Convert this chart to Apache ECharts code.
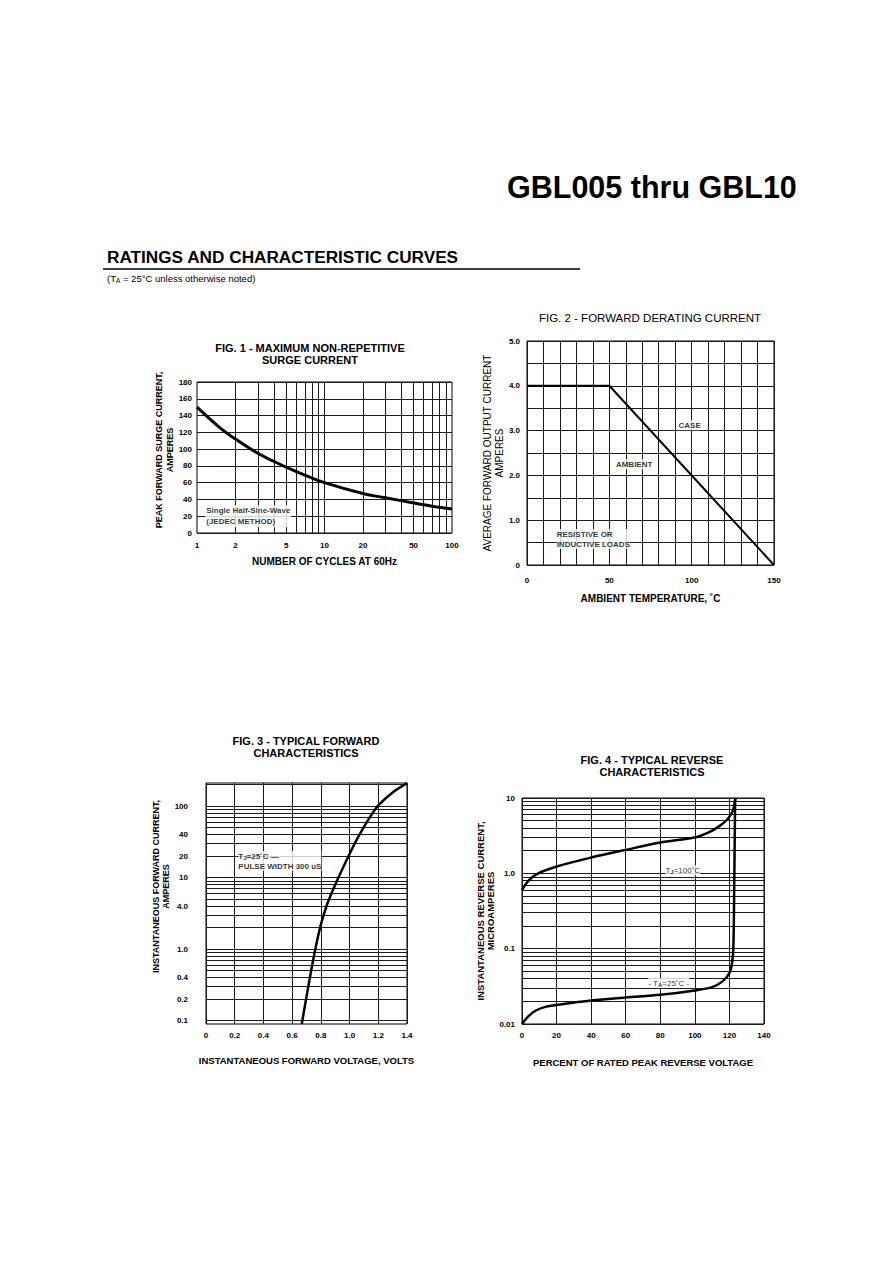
<!DOCTYPE html>
<html><head><meta charset="utf-8">
<script src="https://cdn.jsdelivr.net/npm/echarts@6/dist/echarts.min.js"></script>
<style>html,body{margin:0;padding:0;background:#fff}#c{width:892px;height:1263px}</style>
</head><body><div id="c"></div>
<script>
// ---------- FIG. 1 : surge current vs cycles ----------
const fig1Cycles = [1, 1.5, 2, 3, 4, 5, 7, 10, 20, 30, 50, 70, 100];
const fig1Surge  = [150, 126, 112, 95, 85.5, 78.5, 69, 60, 47, 42, 35.8, 32, 28.5];
const fig1XTicks = [1, 2, 5, 10, 20, 50, 100];
const fig1XGrid  = [2, 3, 4, 5, 6, 7, 8, 9, 10, 20, 30, 40, 50, 60, 70, 80, 90];
// ---------- FIG. 2 : derating ----------
const fig2Temp    = [0, 50, 150];
const fig2Current = [4.0, 4.0, 0];
// ---------- FIG. 3 : forward characteristics ----------
const fig3Volts = [0.667, 0.70, 0.74, 0.77, 0.80, 0.83, 0.86, 0.90, 0.95, 1.0, 1.05, 1.1, 1.15, 1.2, 1.3, 1.4];
const fig3Amps  = [0.09, 0.216, 0.605, 1.21, 2.2, 3.52, 5.15, 7.94, 13.2, 21.4, 33.9, 51.3, 74, 102, 155, 209];
const fig3YTicks  = [0.1, 0.2, 0.4, 1, 4, 10, 20, 40, 100];
const fig3YLabels = ['0.1', '0.2', '0.4', '1.0', '4.0', '10', '20', '40', '100'];
const fig3YGrid = [0.1,0.2,0.3,0.4,0.5,0.6,0.7,0.8,0.9,1,2,3,4,5,6,7,8,9,10,20,30,40,50,60,70,80,90,100,200];
// ---------- FIG. 4 : reverse characteristics ----------
const fig4Pct100 = [0, 3.5, 8.3, 20, 40, 60, 80, 100, 108, 114, 119, 122, 123.5];
const fig4Cur100 = [0.6, 0.79, 0.97, 1.23, 1.62, 2.05, 2.57, 2.99, 3.49, 4.2, 5.26, 6.8, 10];
const fig4Pct25  = [0, 3.5, 8, 14, 20, 40, 60, 80, 100, 110, 116, 120, 121.5, 122.3, 122.8, 123.3];
const fig4Cur25  = [0.01, 0.0125, 0.0151, 0.017, 0.0179, 0.0205, 0.0225, 0.0244, 0.0279, 0.0309, 0.0368, 0.0475, 0.0646, 0.108, 0.756, 10];
const fig4YTicks  = [0.01, 0.1, 1, 10];
const fig4YLabels = ['0.01', '0.1', '1.0', '10'];
const fig4YGrid = [0.01,0.02,0.03,0.04,0.05,0.06,0.07,0.08,0.09,0.1,0.2,0.3,0.4,0.5,0.6,0.7,0.8,0.9,1,2,3,4,5,6,7,8,9,10];

const FONT = '"Liberation Sans", Arial, sans-serif';
const INK = '#000';
const GRIDC = '#1c1c1c';
const zip = (a, b) => a.map((v, i) => [v, b[i]]);

function gridLines(key, values) {
  return { silent: true, symbol: ['none', 'none'], z: 1, animation: false,
    label: { show: false }, emphasis: { disabled: true },
    lineStyle: { color: GRIDC, width: 1, type: 'solid' },
    data: values.map(v => ({ [key]: v })) };
}
const tickLab = (extra) => Object.assign({ color: INK, fontSize: 8, fontWeight: 'bold', fontFamily: FONT }, extra || {});
const nameStyle = (extra) => Object.assign({ color: INK, fontSize: 9, fontWeight: 'bold', fontFamily: FONT }, extra || {});
const split = { show: true, lineStyle: { color: GRIDC, width: 1 } };
const noSplit = { show: false };
const gridBox = { show: true, borderColor: '#000', borderWidth: 1, backgroundColor: 'transparent' };
const sub = { s: { fontSize: 6, fontWeight: 'bold', fontFamily: FONT, padding: [4, 0, 0, 0] } };
function note(xi, yi, pt, text, extra) {
  return { type: 'scatter', xAxisIndex: xi, yAxisIndex: yi, symbolSize: 0, silent: true, z: 4,
    data: [pt],
    label: Object.assign({ show: true, position: [0, 0], align: 'left', verticalAlign: 'middle',
      formatter: text, color: INK, fontSize: 8, fontWeight: 'bold', fontFamily: FONT,
      backgroundColor: '#fff', lineHeight: 10, rich: sub }, extra || {}) };
}

const chart = echarts.init(document.getElementById('c'), null, { renderer: 'svg', width: 892, height: 1263 });

const option = {
  animation: false,
  backgroundColor: '#fff',
  textStyle: { fontFamily: FONT },
  graphic: [
    { type: 'text', x: 507, y: 187, style: { text: 'GBL005 thru GBL10', font: 'bold 30.5px ' + FONT, fill: INK, align: 'left', verticalAlign: 'middle', textAlign: 'left', textVerticalAlign: 'middle' } },
    { type: 'text', x: 107, y: 257, style: { text: 'RATINGS AND CHARACTERISTIC CURVES', font: 'bold 17.2px ' + FONT, fill: INK, align: 'left', verticalAlign: 'middle', textAlign: 'left', textVerticalAlign: 'middle' } },
    { type: 'line', shape: { x1: 103, y1: 269, x2: 580, y2: 269 }, style: { stroke: INK, lineWidth: 1.5 } },
    { type: 'text', x: 107, y: 278, style: { text: '(T{s|A} = 25°C unless otherwise noted)', font: '9.5px ' + FONT, fill: INK, align: 'left', verticalAlign: 'middle', textAlign: 'left', textVerticalAlign: 'middle', rich: { s: { fontSize: 6.5, padding: [4, 0, 0, 0] } } } },
    // figure titles
    { type: 'text', x: 310, y: 348, style: { text: 'FIG. 1 - MAXIMUM NON-REPETITIVE', font: 'bold 11px ' + FONT, fill: INK, align: 'center', verticalAlign: 'middle', textAlign: 'center', textVerticalAlign: 'middle' } },
    { type: 'text', x: 310, y: 360, style: { text: 'SURGE CURRENT', font: 'bold 11px ' + FONT, fill: INK, align: 'center', verticalAlign: 'middle', textAlign: 'center', textVerticalAlign: 'middle' } },
    { type: 'text', x: 650, y: 318, style: { text: 'FIG. 2 - FORWARD DERATING CURRENT', font: '11.5px ' + FONT, fill: INK, align: 'center', verticalAlign: 'middle', textAlign: 'center', textVerticalAlign: 'middle' } },
    { type: 'text', x: 306, y: 741, style: { text: 'FIG. 3 - TYPICAL FORWARD', font: 'bold 11px ' + FONT, fill: INK, align: 'center', verticalAlign: 'middle', textAlign: 'center', textVerticalAlign: 'middle' } },
    { type: 'text', x: 306, y: 753, style: { text: 'CHARACTERISTICS', font: 'bold 11px ' + FONT, fill: INK, align: 'center', verticalAlign: 'middle', textAlign: 'center', textVerticalAlign: 'middle' } },
    { type: 'text', x: 652, y: 760, style: { text: 'FIG. 4 - TYPICAL REVERSE', font: 'bold 11px ' + FONT, fill: INK, align: 'center', verticalAlign: 'middle', textAlign: 'center', textVerticalAlign: 'middle' } },
    { type: 'text', x: 652, y: 772, style: { text: 'CHARACTERISTICS', font: 'bold 11px ' + FONT, fill: INK, align: 'center', verticalAlign: 'middle', textAlign: 'center', textVerticalAlign: 'middle' } }
  ],
  grid: [
    Object.assign({ left: 197, top: 382, width: 255, height: 151 }, gridBox),
    Object.assign({ left: 527, top: 341, width: 247, height: 224 }, gridBox),
    Object.assign({ left: 206, top: 783, width: 201, height: 241 }, gridBox),
    Object.assign({ left: 522, top: 798, width: 242, height: 226 }, gridBox)
  ],
  xAxis: [
    { gridIndex: 0, type: 'log', logBase: 10, min: 1, max: 100,
      axisLine: { show: false }, axisTick: { show: false }, splitLine: noSplit,
      axisLabel: Object.assign(tickLab({ margin: 8 }), { customValues: fig1XTicks, formatter: v => String(Math.round(v)) }),
      name: 'NUMBER OF CYCLES AT 60Hz', nameLocation: 'middle', nameGap: 23, nameTextStyle: nameStyle({ fontSize: 10 }) },
    { gridIndex: 1, type: 'value', min: 0, max: 150, interval: 10,
      axisLine: { show: false }, axisTick: { show: false }, splitLine: split,
      axisLabel: tickLab({ margin: 11, formatter: v => (v % 50 === 0 ? String(v) : '') }),
      name: 'AMBIENT TEMPERATURE, ˚C', nameLocation: 'middle', nameGap: 28, nameTextStyle: nameStyle({ fontSize: 10 }) },
    { gridIndex: 2, type: 'value', min: 0, max: 1.4, interval: 0.2,
      axisLine: { show: false }, axisTick: { show: false }, splitLine: split,
      axisLabel: tickLab({ margin: 7, formatter: v => (v === 0 ? '0' : v.toFixed(1)) }),
      name: 'INSTANTANEOUS FORWARD VOLTAGE, VOLTS', nameLocation: 'middle', nameGap: 31, nameTextStyle: nameStyle({ fontSize: 9.5 }) },
    { gridIndex: 3, type: 'value', min: 0, max: 140, interval: 20,
      axisLine: { show: false }, axisTick: { show: false }, splitLine: split,
      axisLabel: tickLab({ margin: 7 }),
      name: 'PERCENT OF RATED PEAK REVERSE VOLTAGE', nameLocation: 'middle', nameGap: 33, nameTextStyle: nameStyle({ fontSize: 9.5 }) }
  ],
  yAxis: [
    { gridIndex: 0, type: 'value', min: 0, max: 180, interval: 20,
      axisLine: { show: false }, axisTick: { show: false }, splitLine: split,
      axisLabel: tickLab({ margin: 5 }),
      name: 'PEAK FORWARD SURGE CURRENT,\nAMPERES', nameLocation: 'middle', nameGap: 22,
      nameTextStyle: nameStyle({ lineHeight: 10.5, padding: [0, 0, 0, 15] }) },
    { gridIndex: 1, type: 'value', min: 0, max: 5, interval: 0.5,
      axisLine: { show: false }, axisTick: { show: false }, splitLine: split,
      axisLabel: tickLab({ margin: 7, formatter: v => (Math.abs(v - Math.round(v)) < 1e-9 ? (v === 0 ? '0' : v.toFixed(1)) : '') }),
      name: 'AVERAGE FORWARD OUTPUT CURRENT\nAMPERES', nameLocation: 'middle', nameGap: 22,
      nameTextStyle: nameStyle({ fontSize: 10, fontWeight: 'normal', lineHeight: 11.5 }) },
    { gridIndex: 2, type: 'log', logBase: 10, min: 0.09, max: 210,
      axisLine: { show: false }, axisTick: { show: false }, splitLine: noSplit,
      axisLabel: Object.assign(tickLab({ margin: 18 }), { customValues: fig3YTicks,
        formatter: v => { const i = fig3YTicks.findIndex(t => Math.abs(t - v) / t < 1e-6); return i >= 0 ? fig3YLabels[i] : ''; } }),
      name: 'INSTANTANEOUS FORWARD CURRENT,\nAMPERES', nameLocation: 'middle', nameGap: 27,
      nameTextStyle: nameStyle({ lineHeight: 10, padding: [0, 0, 0, 34] }) },
    { gridIndex: 3, type: 'log', logBase: 10, min: 0.01, max: 10,
      axisLine: { show: false }, axisTick: { show: false }, splitLine: noSplit,
      axisLabel: Object.assign(tickLab({ margin: 7 }), { customValues: fig4YTicks,
        formatter: v => { const i = fig4YTicks.findIndex(t => Math.abs(t - v) / t < 1e-6); return i >= 0 ? fig4YLabels[i] : ''; } }),
      name: 'INSTANTANEOUS REVERSE CURRENT,\nMICROAMPERES', nameLocation: 'middle', nameGap: 27,
      nameTextStyle: nameStyle({ fontSize: 9.5, lineHeight: 9.5 }) }
  ],
  series: [
    { type: 'line', xAxisIndex: 0, yAxisIndex: 0, data: zip(fig1Cycles, fig1Surge), smooth: 0.4,
      symbol: 'none', z: 3, lineStyle: { color: INK, width: 3 }, markLine: gridLines('xAxis', fig1XGrid) },
    note(0, 0, [1.16, 20], 'Single Half-Sine-Wave\n(JEDEC METHOD)', { lineHeight: 11, padding: [0, 1, 0, 1] }),

    { type: 'line', xAxisIndex: 1, yAxisIndex: 1, data: zip(fig2Temp, fig2Current),
      symbol: 'none', z: 3, lineStyle: { color: INK, width: 2 } },
    note(1, 1, [92, 3.12], 'CASE', { fontWeight: 'bold' }),
    note(1, 1, [54, 2.25], 'AMBIENT'),
    note(1, 1, [18, 0.58], 'RESISTIVE OR\nINDUCTIVE LOADS'),

    { type: 'line', xAxisIndex: 2, yAxisIndex: 2, data: zip(fig3Volts, fig3Amps), smooth: 0.3,
      symbol: 'none', z: 3, lineStyle: { color: INK, width: 2.5 }, markLine: gridLines('yAxis', fig3YGrid) },
    note(2, 2, [0.225, 17], 'T{s|J}=25˚C —\nPULSE WIDTH 300 uS', { lineHeight: 10 }),

    { type: 'line', xAxisIndex: 3, yAxisIndex: 3, data: zip(fig4Pct100, fig4Cur100), smooth: 0.3,
      symbol: 'none', z: 3, lineStyle: { color: INK, width: 2.5 }, markLine: gridLines('yAxis', fig4YGrid) },
    { type: 'line', xAxisIndex: 3, yAxisIndex: 3, data: zip(fig4Pct25, fig4Cur25), smooth: 0.3,
      symbol: 'none', z: 3, lineStyle: { color: INK, width: 2.5 } },
    note(3, 3, [83, 1.1], 'T{s|J}=100˚C', { fontWeight: 'normal' }),
    note(3, 3, [73, 0.035], '- T{s|A}=25˚C -', { fontWeight: 'normal' })
  ]
};
chart.setOption(option);
</script>
</body></html>
